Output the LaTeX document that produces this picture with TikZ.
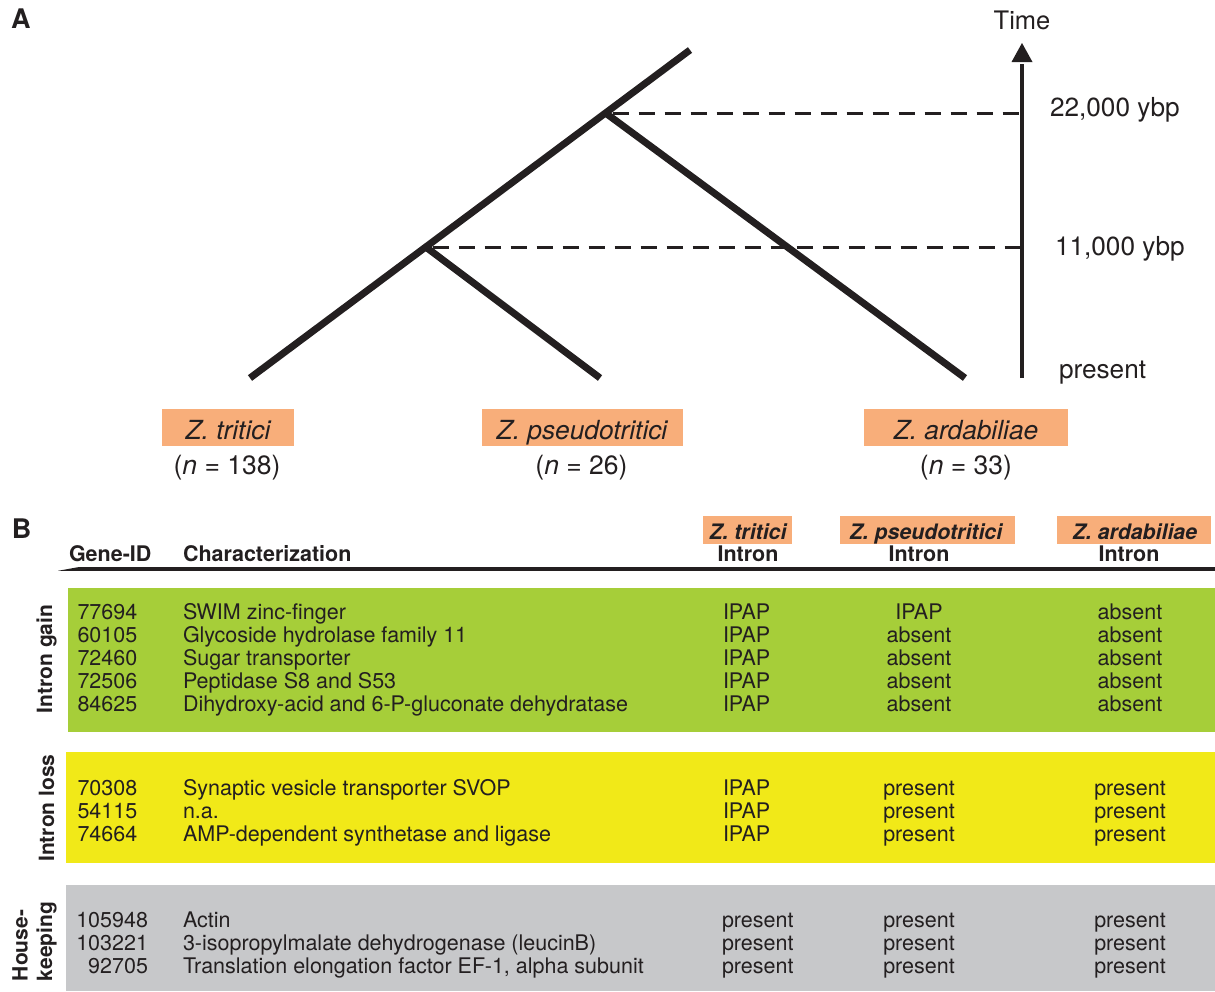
\documentclass[tikz,border=0pt]{standalone}
\usepackage{fontspec}
\setmainfont{TeX Gyre Heros}
\definecolor{ink}{RGB}{35,31,32}
\definecolor{spor}{RGB}{248,174,122}
\definecolor{gaingreen}{RGB}{166,206,57}
\definecolor{lossyellow}{RGB}{241,233,24}
\definecolor{hkgray}{RGB}{199,200,202}
\begin{document}
\begin{tikzpicture}[x=1pt,y=-1pt,
  every node/.style={inner sep=0pt,outer sep=0pt,text=ink},
  branch/.style={draw=ink,line width=7pt,line cap=butt},
  guide/.style={draw=ink,line width=3pt,dash pattern=on 16pt off 10pt},
  panel/.style={font=\fontsize{27}{30}\selectfont\bfseries},
  axlab/.style={font=\fontsize{26.2}{28}\selectfont},
  timelab/.style={font=\fontsize{25.5}{28}\selectfont},
  spbox/.style={fill=spor,minimum height=37pt},
  sptext/.style={font=\fontsize{26.3}{28}\selectfont\itshape},
  nlab/.style={font=\fontsize{26.5}{28}\selectfont},
  hdr/.style={font=\fontsize{21.5}{24}\selectfont\bfseries},
  hsp/.style={font=\fontsize{21.3}{23}\selectfont\bfseries\itshape},
  hspbox/.style={fill=spor,minimum height=28pt},
  cell/.style={font=\fontsize{21.5}{23}\selectfont},
  sec/.style={font=\fontsize{21}{24}\selectfont\bfseries,rotate=90}
]
\useasboundingbox (0,0) rectangle (1215,991);

% ---------- Panel A ----------
\node[panel,anchor=base west] (pA) at (11,28) {A};

\coordinate (top) at (690,50);
\coordinate (n22) at (605.5,113);
\coordinate (n11) at (425.7,247);
\coordinate (lt) at (250,378);
\coordinate (lp) at (600,378);
\coordinate (la) at (965,378);
\draw[branch] (top) -- (lt);
\draw[branch] (n22) -- (la);
\draw[branch] (n11) -- (lp);

\coordinate (t22) at (1020,113);
\coordinate (t11) at (1020,247);
\draw[guide] ([xshift=7pt]n22) -- (t22);
\draw[guide] ([xshift=7pt]n11) -- (t11);

\coordinate (axb) at (1022,378);
\coordinate (axt) at (1022,64);
\draw[ink,line width=4.8pt] (axb) -- (axt);
\fill[ink] (1011.5,62) -- (1022,43) -- (1032.5,62) -- cycle;

\node[timelab,anchor=base] (time) at (1022,29) {Time};
\node[axlab,anchor=base west] (l22) at (1050,116.5) {22,000 ybp};
\node[axlab,anchor=base west] (l11) at (1055,255) {11,000 ybp};
\node[axlab,anchor=base west] (lpr) at (1059,378) {present};

\node[spbox,minimum width=132pt] (bzt) at (228,427) {};
\node[spbox,minimum width=201pt] (bzp) at (582.5,427) {};
\node[spbox,minimum width=204pt] (bza) at (966,427) {};
\node[sptext,anchor=base] (szt) at (228,439) {Z. tritici};
\node[sptext,anchor=base] (szp) at (582,439) {Z. pseudotritici};
\node[sptext,anchor=base] (sza) at (966,439) {Z. ardabiliae};
\node[nlab,anchor=base] (nzt) at (227,474) {(\textit{n} = 138)};
\node[nlab,anchor=base] (nzp) at (581.5,474) {(\textit{n} = 26)};
\node[nlab,anchor=base] (nza) at (966,474) {(\textit{n} = 33)};

% ---------- Panel B ----------
\node[panel,anchor=base west] (pB) at (12,538) {B};

\node[hspbox,minimum width=89pt] (hb1) at (747.5,530) {};
\node[hspbox,minimum width=175pt] (hb2) at (927.5,530) {};
\node[hspbox,minimum width=154pt] (hb3) at (1134,530) {};
\node[hsp,anchor=base] (hs1) at (748,539) {Z. tritici};
\node[hsp,anchor=base] (hs2) at (926,539) {Z. pseudotritici};
\node[hsp,anchor=base] (hs3) at (1135,539) {Z. ardabiliae};

\node[hdr,anchor=base west] (hgid) at (69,561) {Gene-ID};
\node[hdr,anchor=base west] (hchar) at (183,561) {Characterization};
\node[hdr,anchor=base] (hi1) at (748,561) {Intron};
\node[hdr,anchor=base] (hi2) at (919,561) {Intron};
\node[hdr,anchor=base] (hi3) at (1129,561) {Intron};

\fill[ink] (58,570.8) -- (78,567.2) -- (1215,567.2) -- (1215,570.8) -- cycle;

\fill[gaingreen] (68,588) rectangle (1215,732);
\fill[lossyellow] (66,752) rectangle (1215,862.5);
\fill[hkgray] (66,885) rectangle (1215,991);

\node[sec] (sgain) at (46.5,659) {Intron gain};
\node[sec] (sloss) at (46.5,808) {Intron loss};
\node[sec,anchor=base west] (shk1) at (27.5,981) {House-};
\node[sec,anchor=base west] (shk2) at (52,981) {keeping};

% intron gain rows
\foreach \id/\desc/\a/\b/\c [count=\i from 0] in {
  77694/SWIM zinc-finger/IPAP/IPAP/absent,
  60105/Glycoside hydrolase family 11/IPAP/absent/absent,
  72460/Sugar transporter/IPAP/absent/absent,
  72506/Peptidase S8 and S53/IPAP/absent/absent,
  84625/Dihydroxy-acid and 6-P-gluconate dehydratase/IPAP/absent/absent}{
  \node[cell,anchor=base west] (g\i id) at (77.5,619+23*\i) {\id};
  \node[cell,anchor=base west] (g\i d) at (183,619+23*\i) {\desc};
  \node[cell,anchor=base west] (g\i a) at (723,619+23*\i) {\a};
  \node[cell,anchor=base] (g\i b) at (919,619+23*\i) {\b};
  \node[cell,anchor=base] (g\i c) at (1130,619+23*\i) {\c};
}
% intron loss rows
\foreach \id/\desc/\a/\b/\c [count=\i from 0] in {
  70308/Synaptic vesicle transporter SVOP/IPAP/present/present,
  54115/n.a./IPAP/present/present,
  74664/AMP-dependent synthetase and ligase/IPAP/present/present}{
  \node[cell,anchor=base west] (y\i id) at (77.5,795+23*\i) {\id};
  \node[cell,anchor=base west] (y\i d) at (183,795+23*\i) {\desc};
  \node[cell,anchor=base west] (y\i a) at (723,795+23*\i) {\a};
  \node[cell,anchor=base] (y\i b) at (919,795+23*\i) {\b};
  \node[cell,anchor=base] (y\i c) at (1130,795+23*\i) {\c};
}
% housekeeping rows
\foreach \id/\desc/\a/\b/\c [count=\i from 0] in {
  105948/Actin/present/present/present,
  103221/3-isopropylmalate dehydrogenase (leucinB)/present/present/present,
  92705/{Translation elongation factor EF-1, alpha subunit}/present/present/present}{
  \node[cell,anchor=base east] (k\i id) at (148,927+23*\i) {\id};
  \node[cell,anchor=base west] (k\i d) at (183,927+23*\i) {\desc};
  \node[cell,anchor=base west] (k\i a) at (722,927+23*\i) {\a};
  \node[cell,anchor=base] (k\i b) at (919,927+23*\i) {\b};
  \node[cell,anchor=base] (k\i c) at (1130,927+23*\i) {\c};
}
\end{tikzpicture}
\end{document}
